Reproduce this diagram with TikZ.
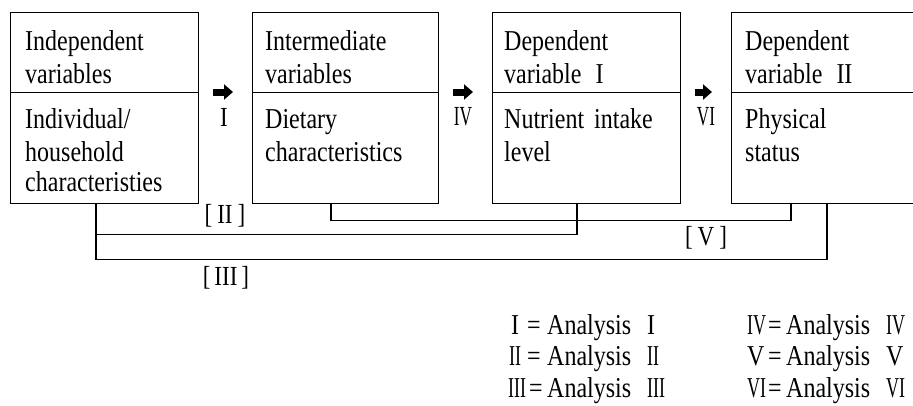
\documentclass[tikz,border=0pt]{standalone}
\usepackage{graphicx}
\usepackage{fontspec}
\setmainfont{Liberation Serif}
\usetikzlibrary{arrows.meta,calc}
\newcommand{\vtx}[1]{\scalebox{1}[1.2]{#1}}
\newcommand{\rn}[1]{\scalebox{0.75}[1]{#1}}
\begin{document}
\begin{tikzpicture}[x=1pt,y=-1pt,
  sect/.style={draw,line width=1.1pt,rectangle,inner sep=0pt,anchor=north west,minimum width=#1},
  txt/.style={inner sep=0pt,anchor=base west,font=\fontsize{24}{28}\selectfont},
  lbl/.style={inner sep=0pt,anchor=center,font=\fontsize{23}{28}\selectfont},
  conn/.style={line width=1.1pt},
  fat/.style={line width=7pt,-{Triangle[width=15pt,length=9pt]},shorten <=14pt,shorten >=19pt}]
\clip (0,0) rectangle (913,405);
% boxes
\node[sect=188pt,minimum height=80pt] (b1top) at (10,12) {};
\node[sect=188pt,minimum height=111pt] (b1bot) at (10,92) {};
\node[sect=186pt,minimum height=80pt] (b2top) at (252,12) {};
\node[sect=186pt,minimum height=111pt] (b2bot) at (252,92) {};
\node[sect=188pt,minimum height=80pt] (b3top) at (492,12) {};
\node[sect=188pt,minimum height=111pt] (b3bot) at (492,92) {};
\node[sect=200pt,minimum height=80pt] (b4top) at (731,12) {};
\node[sect=200pt,minimum height=111pt] (b4bot) at (731,92) {};
% box texts
\node[txt] (t11) at (25,50) {\vtx{Independent}};
\node[txt] (t12) at (25,83) {\vtx{variables}};
\node[txt] (t13) at (25,128) {\vtx{Individual/}};
\node[txt] (t14) at (25,161) {\vtx{household}};
\node[txt] (t15) at (25,191) {\vtx{characteristies}};
\node[txt] (t21) at (265,50) {\vtx{Intermediate}};
\node[txt] (t22) at (265,83) {\vtx{variables}};
\node[txt] (t23) at (265,128) {\vtx{Dietary}};
\node[txt] (t24) at (265,161) {\vtx{characteristics}};
\node[txt] (t31) at (504,50) {\vtx{Dependent}};
\node[txt] (t32) at (504,83) {\vtx{variable\hspace{14pt}I}};
\node[txt] (t33) at (504,128) {\vtx{Nutrient\hspace{10pt}intake}};
\node[txt] (t34) at (504,161) {\vtx{level}};
\node[txt] (t41) at (745,50) {\vtx{Dependent}};
\node[txt] (t42) at (745,83) {\vtx{variable\hspace{14pt}II}};
\node[txt] (t43) at (745,128) {\vtx{Physical}};
\node[txt] (t44) at (745,161) {\vtx{status}};
% fat arrows between boxes
\draw[fat] (b1bot.north east) -- (b2bot.north west);
\draw[fat] (b2bot.north east) -- (b3bot.north west);
\draw[fat] (b3bot.north east) -- (b4bot.north west);
\node[lbl] (a1) at (224,117) {\vtx{I}};
\node[lbl] (a4) at (463,117) {\vtx{\rn{IV}}};
\node[lbl] (a6) at (706,117) {\vtx{\rn{VI}}};
% bottom connectors
\coordinate (p1) at ($(b1bot.south west)+(86,0)$);
\coordinate (p2) at ($(b2bot.south west)+(79,0)$);
\coordinate (q3) at ($(b3bot.south west)+(85,0)$);
\coordinate (q4a) at ($(b4bot.south west)+(60,0)$);
\coordinate (q4b) at ($(b4bot.south west)+(96,0)$);
\draw[conn] (p2) -- ++(0,16) -| (q4a);
\draw[conn] (p1) -- ++(0,30) -| (q3);
\draw[conn] (p1) -- ++(0,55) -| (q4b);
\node[lbl] (l2) at (225,216) {\vtx{[\hspace{5pt}II\hspace{5pt}]}};
\node[lbl] (l5) at (706,238) {\vtx{[\hspace{5pt}V\hspace{5pt}]}};
\node[lbl] (l3) at (226,278) {\vtx{[\hspace{4pt}III\hspace{4pt}]}};
% legend
\node[txt] (g1) at (511,334) {\vtx{\makebox[16pt][l]{I}\makebox[20pt][l]{=}Analysis\hspace{16pt}I}};
\node[txt] (g2) at (509,365) {\vtx{\makebox[18pt][l]{\rn{II}}\makebox[20pt][l]{=}Analysis\hspace{16pt}\rn{II}}};
\node[txt] (g3) at (508,397) {\vtx{\makebox[21pt][l]{\rn{III}}\makebox[18pt][l]{=}Analysis\hspace{16pt}\rn{III}}};
\node[txt] (g4) at (747,334) {\vtx{\makebox[21pt][l]{\rn{IV}}\makebox[18pt][l]{=}Analysis\hspace{16pt}\rn{IV}}};
\node[txt] (g5) at (747,365) {\vtx{\makebox[21pt][l]{V}\makebox[18pt][l]{=}Analysis\hspace{16pt}V}};
\node[txt] (g6) at (747,397) {\vtx{\makebox[21pt][l]{\rn{VI}}\makebox[18pt][l]{=}Analysis\hspace{16pt}\rn{VI}}};
\end{tikzpicture}
\end{document}
